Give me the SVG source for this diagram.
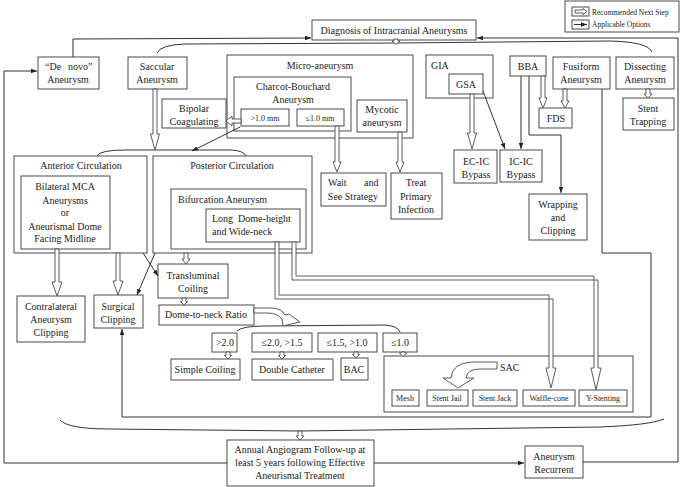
<svg xmlns="http://www.w3.org/2000/svg" width="680" height="487" viewBox="0 0 680 487">
<defs>
<marker id="ah" viewBox="0 0 8 6" refX="8" refY="3" markerWidth="6" markerHeight="4.5" orient="auto" markerUnits="userSpaceOnUse"><path d="M0,0 L8,3 L0,6 Z" fill="#222"/></marker>
<style>
.b{fill:#fff;stroke:#4a4a4a;stroke-width:1}
.t{font-family:"Liberation Serif","Times New Roman",serif;font-size:10px;fill:#222;text-anchor:middle}
.st{text-anchor:start}
.sm{font-size:8px}
.lg{font-size:7.5px;text-anchor:start}
.h{fill:#fff;stroke:#4a4a4a;stroke-width:0.9}
.l{fill:none;stroke:#333;stroke-width:1}
.a{marker-end:url(#ah)}
</style>
</defs>
<rect width="680" height="487" fill="#fff"/>

<g id="legend">
<rect class="b" x="565" y="1" width="114" height="31"/>
<rect class="b" x="572" y="7" width="17" height="9"/>
<polygon class="h" points="575,10 583,10 583,8.5 587,11.5 583,14.5 583,13 575,13"/>
<rect class="b" x="572" y="20" width="17" height="9"/>
<line class="l a" x1="574" y1="24.5" x2="587" y2="24.5"/>
<text class="t lg" x="592" y="15">Recommended Next Step</text>
<text class="t lg" x="592" y="27">Applicable Options</text>
</g>

<g id="diagnosis"><rect class="b" x="312" y="20" width="164" height="20"/><text class="t" x="394" y="34">Diagnosis of Intracranial Aneurysms</text></g>

<g id="denovo"><rect class="b" x="38" y="57" width="61" height="32"/><text class="t st" y="70"><tspan x="45">“De </tspan><tspan x="68">novo”</tspan></text><text class="t" x="68" y="83">Aneurysm</text></g>
<g id="saccular"><rect class="b" x="128" y="57" width="59" height="32"/><text class="t" x="157" y="70">Saccular</text><text class="t" x="157" y="83">Aneurysm</text></g>
<g id="bipolar"><rect class="b" x="162" y="99" width="64" height="29"/><text class="t" x="194" y="112">Bipolar</text><text class="t" x="194" y="125">Coagulating</text></g>

<g id="micro"><rect class="b" x="227" y="55" width="186" height="83"/><text class="t" x="320" y="69">Micro-aneurysm</text></g>
<g id="charcot"><rect class="b" x="234" y="77" width="117" height="54"/><text class="t" x="293" y="90">Charcot-Bouchard</text><text class="t" x="293" y="103">Aneurysm</text></g>
<g id="gt1"><rect class="b" x="241" y="109" width="48" height="17"/><text class="t sm" x="265" y="121">&gt;1.0 mm</text></g>
<g id="le1"><rect class="b" x="297" y="109" width="47" height="17"/><text class="t sm" x="320" y="121">≤1.0 mm</text></g>
<g id="mycotic"><rect class="b" x="357" y="100" width="50" height="32"/><text class="t" x="382" y="113">Mycotic</text><text class="t" x="382" y="126">aneurysm</text></g>

<g id="gia"><rect class="b" x="426" y="55" width="67" height="43"/><text class="t st" x="431" y="69">GIA</text></g>
<g id="gsa"><rect class="b" x="449" y="74" width="34" height="20"/><text class="t" x="466" y="88">GSA</text></g>
<g id="bba"><rect class="b" x="510" y="56" width="36" height="20"/><text class="t" x="528" y="70">BBA</text></g>
<g id="fusiform"><rect class="b" x="553" y="57" width="57" height="32"/><text class="t" x="581" y="70">Fusiform</text><text class="t" x="581" y="83">Aneurysm</text></g>
<g id="dissecting"><rect class="b" x="616" y="57" width="58" height="32"/><text class="t" x="645" y="70">Dissecting</text><text class="t" x="645" y="83">Aneurysm</text></g>
<g id="fds"><rect class="b" x="539" y="108" width="33" height="20"/><text class="t" x="556" y="122">FDS</text></g>
<g id="stenttrap"><rect class="b" x="623" y="98" width="51" height="32"/><text class="t" x="648" y="112">Stent</text><text class="t" x="648" y="125">Trapping</text></g>
<g id="ecic"><rect class="b" x="454" y="150" width="43" height="33"/><text class="t" x="476" y="165">EC-IC</text><text class="t" x="476" y="178">Bypass</text></g>
<g id="icic"><rect class="b" x="500" y="150" width="42" height="32"/><text class="t" x="521" y="165">IC-IC</text><text class="t" x="521" y="178">Bypass</text></g>
<g id="wrapping"><rect class="b" x="529" y="194" width="58" height="46"/><text class="t" x="558" y="208">Wrapping</text><text class="t" x="558" y="221">and</text><text class="t" x="558" y="234">Clipping</text></g>
<g id="waitsee"><rect class="b" x="321" y="173" width="65" height="33"/><text class="t st" y="186"><tspan x="328">Wait </tspan><tspan x="364">and</tspan></text><text class="t" x="353" y="200">See Strategy</text></g>
<g id="treat"><rect class="b" x="391" y="173" width="51" height="46"/><text class="t" x="416" y="186">Treat</text><text class="t" x="416" y="200">Primary</text><text class="t" x="416" y="213">Infection</text></g>

<g id="anterior"><rect class="b" x="14" y="156" width="133" height="97"/><text class="t" x="81" y="169">Anterior Circulation</text></g>
<g id="bilateral"><rect class="b" x="21" y="176" width="89" height="73"/><text class="t" x="65" y="190">Bilateral MCA</text><text class="t" x="65" y="204">Aneurysms</text><text class="t" x="65" y="216">or</text><text class="t" x="65" y="230">Aneurismal Dome</text><text class="t" x="65" y="242">Facing Midline</text></g>
<g id="posterior"><rect class="b" x="153" y="156" width="159" height="97"/><text class="t" x="232" y="169">Posterior Circulation</text></g>
<g id="bifurcation"><rect class="b" x="171" y="189" width="135" height="60"/><text class="t st" x="178" y="203">Bifurcation Aneurysm</text></g>
<g id="longdome"><rect class="b" x="206" y="209" width="94" height="33"/><text class="t st" x="212" y="222" xml:space="preserve">Long  Dome-height</text><text class="t st" x="212" y="235">and Wide-neck</text></g>

<g id="contralateral"><rect class="b" x="17" y="296" width="68" height="46"/><text class="t" x="51" y="310">Contralateral</text><text class="t" x="51" y="323">Aneurysm</text><text class="t" x="51" y="336">Clipping</text></g>
<g id="surgical"><rect class="b" x="94" y="295" width="49" height="33"/><text class="t" x="118" y="310">Surgical</text><text class="t" x="118" y="323">Clipping</text></g>
<g id="transluminal"><rect class="b" x="158" y="264" width="70" height="34"/><text class="t" x="193" y="279">Transluminal</text><text class="t" x="193" y="292">Coiling</text></g>
<g id="dometoneck"><rect class="b" x="159" y="305" width="95" height="20"/><text class="t" x="206" y="318">Dome-to-neck Ratio</text></g>

<g id="r1"><rect class="b" x="212" y="333" width="25" height="19"/><text class="t" x="225" y="346">&gt;2.0</text></g>
<g id="r2"><rect class="b" x="252" y="333" width="60" height="19"/><text class="t" x="282" y="346">≤2.0, &gt;1.5</text></g>
<g id="r3"><rect class="b" x="318" y="333" width="59" height="19"/><text class="t" x="347" y="346">≤1.5, &gt;1.0</text></g>
<g id="r4"><rect class="b" x="383" y="333" width="34" height="19"/><text class="t" x="400" y="346">≤1.0</text></g>
<g id="simplecoil"><rect class="b" x="171" y="359" width="69" height="21"/><text class="t" x="205" y="373">Simple Coiling</text></g>
<g id="doublecath"><rect class="b" x="252" y="359" width="81" height="21"/><text class="t" x="292" y="373">Double Catheter</text></g>
<g id="bac"><rect class="b" x="341" y="358" width="27" height="22"/><text class="t" x="354" y="373">BAC</text></g>

<g id="sac"><rect class="b" x="384" y="356" width="249" height="56"/><text class="t st" x="500" y="371">SAC</text>
<path class="h" d="M497,362 L472,362 Q452,363 451,378 L443,378 L458,388 L474,378 L466,378 Q467,369 480,369 L497,369 Z"/>
</g>
<g id="mesh"><rect class="b" x="392" y="390" width="27" height="16"/><text class="t sm" x="405" y="401">Mesh</text></g>
<g id="stentjail"><rect class="b" x="427" y="390" width="41" height="16"/><text class="t sm" x="447" y="401">Stent Jail</text></g>
<g id="stentjack"><rect class="b" x="473" y="390" width="44" height="16"/><text class="t sm" x="495" y="401">Stent Jack</text></g>
<g id="wafflecone"><rect class="b" x="523" y="390" width="52" height="16"/><text class="t sm" x="549" y="401">Waffle-cone</text></g>
<g id="ystenting"><rect class="b" x="579" y="390" width="48" height="16"/><text class="t sm" x="603" y="401">Y-Stenting</text></g>

<g id="annual"><rect class="b" x="227" y="440" width="147" height="46"/><text class="t" x="300" y="453">Annual Angiogram Follow-up at</text><text class="t" x="300" y="466">least 5 years following Effective</text><text class="t" x="300" y="479">Aneurismal Treatment</text></g>
<g id="recurrent"><rect class="b" x="525" y="446" width="58" height="32"/><text class="t" x="554" y="460">Aneurysm</text><text class="t" x="554" y="473">Recurrent</text></g>

<g id="connectors">
<path class="l" d="M157,53 Q160,45 185,44 L396,43 L610,41 Q648,42 652,52"/>
<path class="l" d="M97,156 Q100,150 125,150 L232,150 Q244,151 246,156"/>
<path class="l" d="M237,331 Q242,326 265,326 L385,325 Q398,326 400,332"/>
<path class="l" d="M60,420 Q68,429 110,429 L300,431 L600,427 Q650,425 664,419"/>

<path class="l a" d="M73,57 L73,39 L311,38"/>
<path class="l a" d="M583,462 L678,462 L678,38 L477,38"/>
<path class="l a" d="M227,463 L4,463 L4,71 L37,71"/>
<path class="l a" d="M374,463 L524,463"/>
<path class="l a" d="M240,127 L192,151"/>
<path class="l a" d="M483,91 L505,149"/>
<path class="l a" d="M521,76 L521,149"/>
<path class="l a" d="M529,76 L529,135 L561,135 L561,193"/>
<path class="l a" d="M602,89 L602,253 L651,253 L651,417 L122,417 L122,329"/>
<path class="l a" d="M143,253 L158,276"/>
<path class="l a" d="M155,253 L137,295"/>

<polygon class="h" points="394,39 394,41 392,41 396,44.5 400,41 398,41 398,39"/>
<polygon class="h" points="153,89 153,134 150.5,134 155,150 159.5,134 157,134 157,89"/>
<polygon class="h" points="241,119 232,119 232,116 226,121 232,126 232,123 241,123"/>
<polygon class="h" points="335,126 335,162 333,162 337,172 341,162 339,162 339,126"/>
<polygon class="h" points="398,132 398,162 396,162 400,172 404,162 402,162 402,132"/>
<polygon class="h" points="470,94 470,133 467.5,133 472,149 476.5,133 474,133 474,94"/>
<polygon class="h" points="541,76 541,98 539,98 543,108 547,98 545,98 545,76"/>
<polygon class="h" points="563,89 563,101 561,101 565,108 569,101 567,101 567,89"/>
<polygon class="h" points="646,89 646,94 644,94 648,98 652,94 650,94 650,89"/>
<polygon class="h" points="55,249 55,282 52,282 57,296 62,282 59,282 59,249"/>
<polygon class="h" points="116,253 116,281 113,281 118,295 123,281 120,281 120,253"/>
<polygon class="h" points="184,253 184,259 182,259 186,264 190,259 188,259 188,253"/>
<polygon class="h" points="182,298 182,301.5 180.5,301.5 184,305 187.5,301.5 186,301.5 186,298"/>
<polygon class="h" points="226,352 226,355.5 224.5,355.5 228,359 231.5,355.5 230,355.5 230,352"/>
<polygon class="h" points="280,352 280,355.5 278.5,355.5 282,359 285.5,355.5 284,355.5 284,352"/>
<polygon class="h" points="354,352 354,354.5 352.5,354.5 356,358 359.5,354.5 358,354.5 358,352"/>
<polygon class="h" points="401,352 401,353 399.5,353 403,356.5 406.5,353 405,353 405,352"/>
<polygon class="h" points="298,431 298,436 296,436 300,440 304,436 302,436 302,431"/>
<path class="h" d="M254,308 L270,308 Q282,308 285,315 L289,314 L300,322 L283,326 L282,319 Q277,313 268,313 L254,313 Z"/>
<polygon class="h" points="275,242 275,299 553,299 553,368 556,368 551,388 546,368 549,368 549,295 279,295 279,242"/>
<polygon class="h" points="292,242 292,280 598,280 598,368 601,368 596,390 591,368 594,368 594,276 296,276 296,242"/>
</g>
</svg>
